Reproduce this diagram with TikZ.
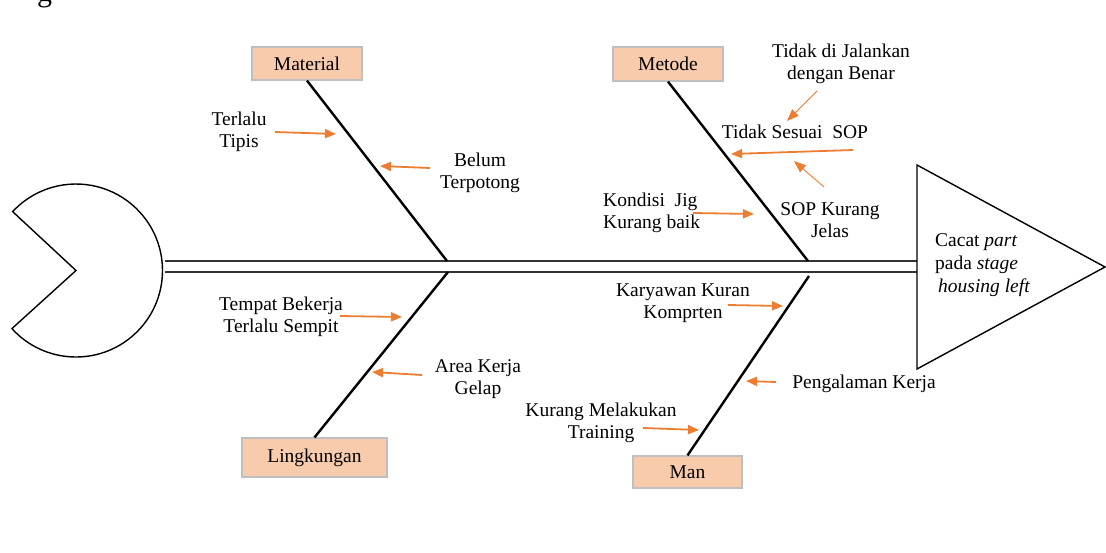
\documentclass[tikz,border=0pt]{standalone}
\usepackage{fontspec}
\setmainfont{Liberation Serif}
\usetikzlibrary{arrows.meta}
\definecolor{arrorange}{HTML}{ED7D31}
\definecolor{boxfill}{HTML}{F8CBAD}
\definecolor{boxline}{HTML}{BFBFBF}
\tikzset{
  lbl/.style={inner sep=0pt, align=center, font=\fontsize{19.5}{22}\selectfont},
  catbox/.style={draw=boxline, line width=1.2pt, fill=boxfill, inner sep=0pt,
    font=\fontsize{19.5}{22}\selectfont},
  bone/.style={line width=2.4pt, black},
  spine/.style={line width=1.3pt, black!80},
  outline/.style={line width=1.4pt, black},
  thickarr/.style={arrorange, line width=1.8pt, -{Triangle[length=11pt,width=9pt]}},
  thinarr/.style={arrorange, line width=0.9pt, -{Triangle[length=12pt,width=9pt]}}
}
\begin{document}
\begin{tikzpicture}[x=1pt,y=-1pt]
\useasboundingbox (0,0) rectangle (1106,552);
% cut-off heading letter
\node[inner sep=0pt, anchor=base, font=\fontsize{30}{32}\selectfont] (cutg) at (44.5,1.5) {g};
% head (pacman)
\draw[outline, fill=white] (76,270.5) -- ++(137.8:86.5) arc[start angle=137.8, end angle=-137.1, radius=86.5] -- cycle;
\coordinate (headR) at (165,266.5);
% spine
\coordinate (spL1) at (165,261); \coordinate (spR1) at (917,261);
\coordinate (spL2) at (165,272); \coordinate (spR2) at (917,272);
\draw[spine] (spL1) -- (spR1);
\draw[spine] (spL2) -- (spR2);
% effect triangle
\coordinate (tA) at (917,165); \coordinate (tB) at (1105,267); \coordinate (tC) at (917,369);
\draw[outline, fill=white] (tA) -- (tB) -- (tC) -- cycle;
\node[lbl, align=left, anchor=west, font=\fontsize{19.5}{23}\selectfont] (effect) at (935,265.5)
  {Cacat \textit{part}\\pada \textit{stage}\\\hspace*{3pt}\textit{housing left}};
% category boxes
\node[catbox, minimum width=110pt, minimum height=33pt] (material) at (307,63.5) {Material};
\node[catbox, minimum width=110pt, minimum height=34pt] (metode) at (668,64) {Metode};
\node[catbox, minimum width=145pt, minimum height=39pt] (lingkungan) at (314.5,457.5) {Lingkungan};
\node[catbox, minimum width=109pt, minimum height=32pt] (man) at (687.5,472) {Man};
% bone joints on spine
\coordinate (jMat) at (447,261);
\coordinate (jMet) at (808,261);
\coordinate (jLin) at (448,272);
\coordinate (jMan) at (809,276);
\draw[bone] (material.south) -- (jMat);
\draw[bone] (metode.south) -- (jMet);
\draw[bone] (lingkungan.north) -- (jLin);
\draw[bone] (man.north) -- (jMan);
% Material causes
\node[lbl] (tipis) at (239,132) {Terlalu\\Tipis};
\coordinate (aTipisS) at (275,132); \coordinate (aTipisE) at (336,134);
\draw[thickarr] (aTipisS) -- (aTipisE);
\node[lbl] (belum) at (480,173) {Belum\\Terpotong};
\coordinate (aBelumS) at (430,168); \coordinate (aBelumE) at (380,166);
\draw[thickarr] (aBelumS) -- (aBelumE);
% Metode causes
\node[lbl] (jalankan) at (841,64) {Tidak di Jalankan\\dengan Benar};
\node[lbl] (sesuai) at (795,131.5) {Tidak Sesuai\ \ SOP};
\node[lbl] (jelas) at (830,220) {SOP Kurang\\Jelas};
\coordinate (aJalS) at (817,91); \coordinate (aJalE) at (787,121);
\draw[thinarr] (aJalS) -- (aJalE);
\coordinate (aSopS) at (853,150); \coordinate (aSopE) at (731,154);
\draw[thickarr] (aSopS) -- (aSopE);
\coordinate (aJelS) at (824,187); \coordinate (aJelE) at (794,161);
\draw[thinarr] (aJelS) -- (aJelE);
\node[lbl, align=left, anchor=west] (jig) at (603,213) {Kondisi\ \ Jig\\Kurang baik};
\coordinate (aJigS) at (693,213); \coordinate (aJigE) at (754,214);
\draw[thickarr] (aJigS) -- (aJigE);
% Lingkungan causes
\node[lbl] (sempit) at (281,316.5) {Tempat Bekerja\\Terlalu Sempit};
\coordinate (aSemS) at (340,316); \coordinate (aSemE) at (402,317);
\draw[thickarr] (aSemS) -- (aSemE);
\node[lbl] (gelap) at (478,379.5) {Area Kerja\\Gelap};
\coordinate (aGelS) at (422,375); \coordinate (aGelE) at (372,372);
\draw[thickarr] (aGelS) -- (aGelE);
% Man causes
\node[lbl] (karyawan) at (683,303) {Karyawan Kuran\\Komprten};
\coordinate (aKarS) at (728,305); \coordinate (aKarE) at (783,306);
\draw[thickarr] (aKarS) -- (aKarE);
\node[lbl] (pengalaman) at (864,383.8) {Pengalaman Kerja};
\coordinate (aPenS) at (776,382); \coordinate (aPenE) at (746,381);
\draw[thickarr] (aPenS) -- (aPenE);
\node[lbl] (training) at (601,423) {Kurang Melakukan\\Training};
\coordinate (aTraS) at (643,428); \coordinate (aTraE) at (699,430);
\draw[thickarr] (aTraS) -- (aTraE);
\end{tikzpicture}
\end{document}
